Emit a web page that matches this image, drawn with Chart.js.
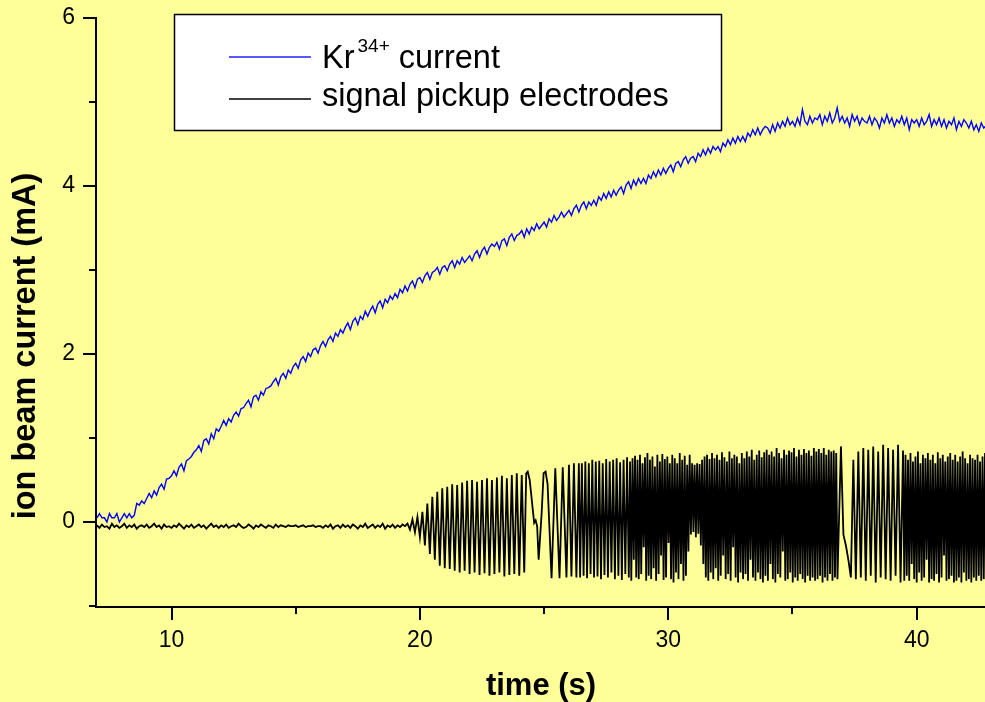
<!DOCTYPE html>
<html>
<head>
<meta charset="utf-8">
<script src="https://cdn.jsdelivr.net/npm/chart.js@4.4.1/dist/chart.umd.min.js"></script>
<style>
  html, body { margin: 0; padding: 0; background: #ffff99; }
  #wrap { width: 985px; height: 702px; }
</style>
</head>
<body>
<div id="wrap"><canvas id="chart" width="985" height="702"></canvas></div>
<script>
// axis ranges and labels
const xRange = [7, 42.75];
const yRange = [-1, 6];
const xTickLabels = [10, 20, 30, 40];
const yTickLabels = [0, 2, 4, 6];
const xTitle = "time (s)";
const yTitle = "ion beam current (mA)";
const legendLabels = [["Kr", "34+", " current"], ["signal pickup electrodes"]];

// Kr34+ current, sampled every 0.1 s from 7.0 s
const blueT0 = 7.0, blueDt = 0.1;
const blueValues = [
  0.05,0.1,0.05,0.05,0.0,0.1,0.05,0.05,0.1,0.0,
  0.05,0.1,0.05,0.1,0.05,0.08,0.22,0.2,0.25,0.22,
  0.28,0.34,0.29,0.37,0.32,0.41,0.45,0.39,0.51,0.52,
  0.55,0.61,0.55,0.65,0.69,0.61,0.73,0.75,0.78,0.83,
  0.86,0.91,0.84,0.97,0.99,0.93,1.05,0.99,1.11,1.08,
  1.14,1.21,1.15,1.23,1.19,1.27,1.31,1.26,1.35,1.36,
  1.41,1.45,1.37,1.49,1.51,1.45,1.55,1.51,1.59,1.6,
  1.62,1.67,1.71,1.63,1.73,1.77,1.71,1.81,1.77,1.85,
  1.89,1.83,1.93,1.97,1.91,2.01,1.97,2.05,2.07,2.01,
  2.1,2.15,2.09,2.17,2.21,2.15,2.25,2.21,2.29,2.25,
  2.32,2.37,2.29,2.39,2.43,2.35,2.45,2.41,2.51,2.45,
  2.52,2.57,2.49,2.59,2.63,2.55,2.65,2.61,2.69,2.65,
  2.72,2.67,2.77,2.73,2.81,2.75,2.83,2.87,2.79,2.89,
  2.91,2.85,2.93,2.97,2.89,2.97,2.99,3.03,2.95,3.03,
  3.05,2.99,3.07,3.11,3.03,3.11,3.07,3.15,3.09,3.13,
  3.17,3.11,3.19,3.23,3.15,3.23,3.27,3.19,3.27,3.31,
  3.28,3.33,3.25,3.35,3.37,3.29,3.39,3.43,3.35,3.41,
  3.43,3.47,3.39,3.49,3.43,3.51,3.47,3.55,3.49,3.53,
  3.57,3.51,3.61,3.57,3.65,3.59,3.63,3.69,3.63,3.67,
  3.71,3.65,3.73,3.77,3.69,3.77,3.81,3.73,3.81,3.77,
  3.83,3.77,3.87,3.83,3.91,3.85,3.93,3.87,3.95,3.89,
  3.95,3.99,3.91,4.01,4.05,3.97,4.07,4.01,4.09,4.03,
  4.09,4.03,4.13,4.09,4.17,4.11,4.19,4.13,4.21,4.15,
  4.21,4.25,4.17,4.27,4.29,4.23,4.31,4.35,4.27,4.33,
  4.35,4.29,4.39,4.35,4.43,4.37,4.45,4.39,4.47,4.43,
  4.47,4.41,4.51,4.47,4.55,4.49,4.57,4.51,4.59,4.53,
  4.59,4.53,4.63,4.59,4.67,4.61,4.69,4.61,4.67,4.71,
  4.69,4.63,4.73,4.65,4.75,4.69,4.77,4.71,4.81,4.73,
  4.77,4.71,4.81,4.73,4.91,4.77,4.73,4.83,4.75,4.81,
  4.79,4.85,4.73,4.83,4.77,4.87,4.75,4.81,4.93,4.77,
  4.83,4.75,4.81,4.71,4.85,4.77,4.83,4.73,4.81,4.77,
  4.75,4.83,4.73,4.81,4.77,4.69,4.81,4.75,4.85,4.75,
  4.81,4.71,4.79,4.75,4.83,4.73,4.81,4.67,4.79,4.75,
  4.79,4.71,4.81,4.73,4.77,4.85,4.71,4.79,4.73,4.81,
  4.71,4.79,4.69,4.77,4.73,4.81,4.67,4.77,4.71,4.79,
  4.75,4.69,4.77,4.67,4.73,4.65,4.75,4.69,4.72
];

// signal pickup electrodes: quiet part, every 0.1 s from 7.0 s
const quietT0 = 7.0, quietDt = 0.1;
const quietValues = [
  -0.04,-0.07,-0.03,-0.06,-0.05,-0.08,-0.02,-0.06,-0.04,-0.07,
  -0.05,-0.02,-0.07,-0.04,-0.06,-0.03,-0.08,-0.05,-0.04,-0.06,
  -0.03,-0.07,-0.05,-0.02,-0.06,-0.04,-0.08,-0.03,-0.06,-0.05,
  -0.07,-0.04,-0.06,-0.02,-0.05,-0.08,-0.04,-0.06,-0.03,-0.07,
  -0.05,-0.03,-0.06,-0.04,-0.08,-0.05,-0.02,-0.06,-0.04,-0.07,
  -0.04,-0.06,-0.03,-0.07,-0.05,-0.04,-0.06,-0.02,-0.05,-0.07,
  -0.06,-0.03,-0.05,-0.08,-0.04,-0.06,-0.03,-0.05,-0.07,-0.04,
  -0.05,-0.07,-0.03,-0.06,-0.04,-0.05,-0.06,-0.04,-0.05,-0.05,
  -0.04,-0.06,-0.05,-0.04,-0.06,-0.05,-0.05,-0.04,-0.06,-0.05,
  -0.05,-0.07,-0.04,-0.06,-0.03,-0.08,-0.05,-0.04,-0.07,-0.03,
  -0.06,-0.04,-0.07,-0.03,-0.05,-0.08,-0.04,-0.06,-0.02,-0.07,
  -0.05,-0.03,-0.07,-0.04,-0.06,-0.02,-0.08,-0.04,-0.06,-0.03,
  -0.07,-0.04,-0.06,-0.03
];

// onset of oscillation, every 0.1 s from 19.4 s
const ringT0 = 19.4, ringDt = 0.1;
const ringValues = [
  -0.05,-0.02,-0.09,0.03,-0.12,0.06,-0.18,0.12,-0.28,0.22,
  -0.38,0.3,-0.45,0.36,-0.52,0.4,-0.55,0.42,-0.56,0.45,
  -0.58,0.44,-0.6,0.47,-0.58,0.49,-0.62,0.5,-0.6,0.48,
  -0.63,0.5,-0.61,0.52,-0.64,0.5,-0.62,0.53,-0.6,0.55,
  -0.65,0.52,-0.63,0.56,-0.62,0.58,-0.64,0.56,-0.6
];

// irregular stretch around 25 s
const burstTimes = [24.28,24.34,24.42,24.6,24.66,24.72,24.78,24.9,24.98,25.06,25.14,25.3,25.45,25.62,25.75,25.9,26.0,26.1,26.2,26.3,26.4];
const burstValues = [0.58,0.6,0.5,-0.01,0.02,-0.05,-0.45,0.1,0.58,0.6,0.45,-0.67,0.64,-0.67,0.65,-0.66,0.68,-0.65,0.7,-0.66,0.7];

const denseAT0 = 26.45, denseADt = 0.07;
const denseAValues = [
  -0.66,0.7,-0.64,0.72,-0.67,0.7,-0.62,0.74,-0.66,0.72,-0.65,0.73,-0.68,0.7,
  -0.63,0.75,-0.66,0.72,-0.6,0.74,-0.68,0.76,-0.64,0.71,-0.69,0.74,-0.62,0.77
];

const denseBT0 = 28.41, denseBDt = 0.05;
const denseBValues = [
  -0.66,0.72,-0.7,0.76,-0.45,0.79,-0.66,0.74,-0.68,0.8,-0.62,0.7,-0.3,0.77,-0.7,0.82,-0.64,0.74,-0.68,0.78,
  -0.55,0.66,-0.7,0.8,-0.62,0.72,-0.4,0.81,-0.69,0.75,-0.66,0.78,-0.25,0.7,-0.68,0.8,-0.72,0.76,-0.6,0.7,
  -0.68,0.82,-0.5,0.74,-0.7,0.79,-0.64,0.68,-0.35,0.8,-0.15,0.7,-0.12,0.68,-0.18,0.7,-0.14,0.69,-0.28,0.74,
  -0.5,0.78,-0.66,0.8,-0.7,0.75,-0.6,0.82,-0.68,0.76,-0.55,0.8,-0.7,0.74,-0.64,0.83,-0.4,0.77,-0.68,0.72,
  -0.62,0.84,-0.7,0.76,-0.3,0.8,-0.66,0.78,-0.72,0.7,-0.6,0.82,-0.68,0.76,-0.62,0.84,-0.7,0.78,-0.45,0.86,
  -0.66,0.74,-0.7,0.8,-0.6,0.85,-0.68,0.77,-0.72,0.83,-0.64,0.86,-0.7,0.8,-0.5,0.84,-0.68,0.78,-0.72,0.88,
  -0.62,0.82,-0.66,0.76,-0.35,0.86,-0.7,0.8,-0.68,0.85,-0.6,0.83,-0.72,0.88,-0.66,0.78,-0.7,0.86,-0.62,0.8,
  -0.68,0.87,-0.72,0.82,-0.64,0.85,-0.7,0.79,-0.66,0.88,-0.7,0.84,-0.68,0.87,-0.64,0.82,-0.72,0.88,-0.66,0.8,
  -0.7,0.86,-0.62,0.84,-0.7,0.85,-0.66,0.82,-0.68
];

const sparseT0 = 36.95, sparseDt = 0.1;
const sparseValues = [
  0.9,-0.15,-0.28,-0.45,-0.66,0.74,-0.68,0.84,-0.66,0.88,-0.7,0.86,-0.64,
  0.9,-0.72,0.84,-0.66,0.92,-0.68,0.88,-0.7,0.86,-0.64,0.92,-0.72,0.85
];

const denseCT0 = 39.5, denseCDt = 0.05;
const denseCValues = [
  -0.7,0.8,-0.64,0.74,-0.7,0.82,-0.5,0.72,-0.68,0.78,-0.72,0.84,-0.6,0.7,-0.7,0.8,-0.66,0.76,-0.45,0.82,
  -0.72,0.74,-0.68,0.8,-0.7,0.7,-0.62,0.83,-0.72,0.76,-0.66,0.8,-0.4,0.72,-0.7,0.78,-0.68,0.82,-0.64,0.74,
  -0.72,0.8,-0.7,0.72,-0.66,0.78,-0.72,0.84,-0.6,0.76,-0.7,0.7,-0.68,0.8,-0.72,0.76,-0.66,0.74,-0.7,0.8,
  -0.64,0.72,-0.7,0.78,-0.68,0.82,-0.72,0.76,-0.66,0.8
];

const FONT = "'Liberation Sans', Arial, sans-serif";
const BG = "#ffff99";

function timed(t0, dt, vals) {
  return vals.map((v, i) => ({ x: +(t0 + i * dt).toFixed(3), y: v }));
}

const bluePoints = timed(blueT0, blueDt, blueValues);
const blackPoints = [].concat(
  timed(quietT0, quietDt, quietValues),
  timed(ringT0, ringDt, ringValues),
  burstTimes.map((t, i) => ({ x: t, y: burstValues[i] })),
  timed(denseAT0, denseADt, denseAValues),
  timed(denseBT0, denseBDt, denseBValues),
  timed(sparseT0, sparseDt, sparseValues),
  timed(denseCT0, denseCDt, denseCValues)
);

// background, axes with outward ticks, legend box and axis titles
const framePlugin = {
  id: "frame",
  beforeDraw(chart) {
    const ctx = chart.ctx;
    ctx.save();
    ctx.fillStyle = BG;
    ctx.fillRect(0, 0, chart.width, chart.height);
    ctx.restore();
  },
  afterDraw(chart) {
    const { ctx, chartArea: a, scales } = chart;
    const x = scales.x, y = scales.y;
    ctx.save();
    ctx.strokeStyle = "#000";
    ctx.lineWidth = 2;
    ctx.beginPath();
    ctx.moveTo(a.left - 1, a.top - 1);
    ctx.lineTo(a.left - 1, a.bottom + 1);
    ctx.lineTo(a.right + 2, a.bottom + 1);
    ctx.stroke();

    ctx.beginPath();
    x.ticks.forEach(t => {
      const px = Math.round(x.getPixelForValue(t.value));
      const len = xTickLabels.includes(t.value) ? 13 : 7;
      ctx.moveTo(px, a.bottom + 1);
      ctx.lineTo(px, a.bottom + 1 + len);
    });
    y.ticks.forEach(t => {
      const py = Math.round(y.getPixelForValue(t.value));
      const len = yTickLabels.includes(t.value) ? 13 : 7;
      ctx.moveTo(a.left - 1, py);
      ctx.lineTo(a.left - 1 - len, py);
    });
    ctx.stroke();

    // legend
    ctx.fillStyle = "#fff";
    ctx.fillRect(174, 14, 548, 117);
    ctx.lineWidth = 1.5;
    ctx.strokeRect(174.5, 14.5, 547, 116);
    const rows = [{ color: "#2020ff", ly: 57 }, { color: "#000000", ly: 99 }];
    rows.forEach(r => {
      ctx.strokeStyle = r.color;
      ctx.lineWidth = 1.4;
      ctx.beginPath();
      ctx.moveTo(229, r.ly);
      ctx.lineTo(311, r.ly);
      ctx.stroke();
    });
    ctx.fillStyle = "#000";
    ctx.textAlign = "left";
    ctx.textBaseline = "alphabetic";
    ctx.font = "32.5px " + FONT;
    const l0 = legendLabels[0];
    ctx.fillText(l0[0], 322, 68);
    const w = ctx.measureText(l0[0]).width;
    ctx.font = "19px " + FONT;
    ctx.fillText(l0[1], 322 + w + 3, 52);
    const w2 = ctx.measureText(l0[1]).width;
    ctx.font = "32.5px " + FONT;
    ctx.fillText(l0[2], 322 + w + 3 + w2, 68);
    ctx.fillText(legendLabels[1][0], 322, 106);

    // axis titles
    ctx.font = "bold 31px " + FONT;
    ctx.textAlign = "center";
    ctx.fillText(xTitle, 541, 695);
    ctx.font = "bold 32.5px " + FONT;
    ctx.translate(35, 346);
    ctx.rotate(-Math.PI / 2);
    ctx.fillText(yTitle, 0, 0);
    ctx.restore();
  }
};

new Chart(document.getElementById("chart"), {
  type: "line",
  data: {
    datasets: [
      {
        label: "Kr34+ current",
        data: bluePoints,
        borderColor: "#0000ff",
        borderWidth: 1.4,
        pointRadius: 0,
        tension: 0
      },
      {
        label: "signal pickup electrodes",
        data: blackPoints,
        borderColor: "#000000",
        borderWidth: 1.8,
        pointRadius: 0,
        tension: 0
      }
    ]
  },
  options: {
    responsive: false,
    animation: false,
    events: [],
    layout: { padding: { top: 18, right: 0, left: 0, bottom: 0 } },
    plugins: { legend: { display: false }, tooltip: { enabled: false } },
    scales: {
      x: {
        type: "linear",
        min: xRange[0],
        max: xRange[1],
        grid: { display: false, drawTicks: false },
        border: { display: false },
        afterFit: s => { s.height = 96; s.paddingLeft = 0; s.paddingRight = 0; },
        ticks: {
          stepSize: 5,
          includeBounds: false,
          maxRotation: 0,
          autoSkip: false,
          padding: 21,
          color: "#000",
          font: { family: FONT, size: 23 },
          callback: v => (xTickLabels.includes(v) ? String(v) : "")
        }
      },
      y: {
        type: "linear",
        min: yRange[0],
        max: yRange[1],
        grid: { display: false, drawTicks: false },
        border: { display: false },
        afterFit: s => { s.width = 97; s.paddingTop = 0; s.paddingBottom = 0; },
        ticks: {
          stepSize: 1,
          includeBounds: false,
          autoSkip: false,
          padding: 22,
          color: "#000",
          font: { family: FONT, size: 23 },
          callback: v => (yTickLabels.includes(v) ? String(v) : "")
        }
      }
    }
  },
  plugins: [framePlugin]
});
</script>
</body>
</html>
